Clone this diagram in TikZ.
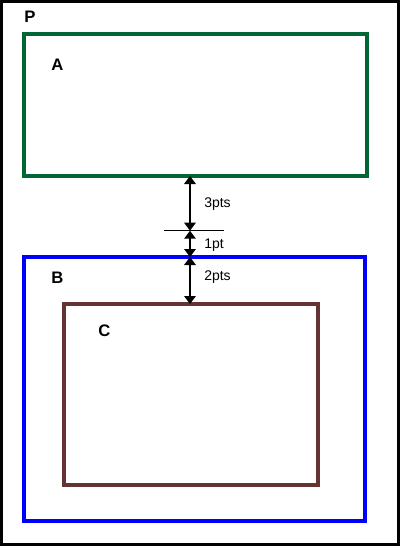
\documentclass[tikz,border=0pt]{standalone}
\usepackage{fontspec}
\setmainfont{Liberation Sans}
\usetikzlibrary{arrows.meta}
\definecolor{boxgreen}{RGB}{0,102,51}
\definecolor{boxblue}{RGB}{0,0,255}
\definecolor{boxbrown}{RGB}{102,51,51}
\begin{document}
\begin{tikzpicture}[x=0.75pt,y=-0.75pt,
  frame/.style={line width=3pt},
  letter/.style={font=\bfseries\fontsize{12.5}{13}\selectfont, inner sep=0pt},
  dim/.style={font=\fontsize{10.5}{12}\selectfont, inner sep=0pt, anchor=base west},
  dimarrow/.style={line width=2.2pt, {Triangle[width=8.5pt,length=6pt]}-{Triangle[width=8.5pt,length=6pt]}}
]
\useasboundingbox (0,0) rectangle (400,546);
\fill[white] (0,0) rectangle (400,546);
% outer page P
\draw[line width=2.25pt, black] (1.5,1.5) rectangle (398.5,544.5);
\node[letter] (P) at (30,16.5) {P};
% box A
\draw[frame, boxgreen] (24,34) rectangle (367,176);
\node[letter] (A) at (57.5,64.5) {A};
% box B
\draw[frame, boxblue] (24,257) rectangle (364.5,520.5);
\node[letter] (B) at (57.5,277.5) {B};
% box C
\draw[frame, boxbrown] (64,304) rectangle (317.5,484.5);
\node[letter] (C) at (104.5,331) {C};
% dimension coordinates
\coordinate (gA) at (190,176);
\coordinate (mid) at (190,230.7);
\coordinate (bB) at (190,257);
\coordinate (tC) at (190,304);
\coordinate (tl) at (164,230.7);
\coordinate (tr) at (224,230.7);
\draw[line width=0.75pt] (tl) -- (tr);
\draw[dimarrow] (gA) -- (mid);
\draw[dimarrow] (mid) -- (bB);
\draw[dimarrow] (bB) -- (tC);
\node[dim] (l3) at (204,207) {3pts};
\node[dim] (l1) at (204,248) {1pt};
\node[dim] (l2) at (204,280) {2pts};
\end{tikzpicture}
\end{document}
